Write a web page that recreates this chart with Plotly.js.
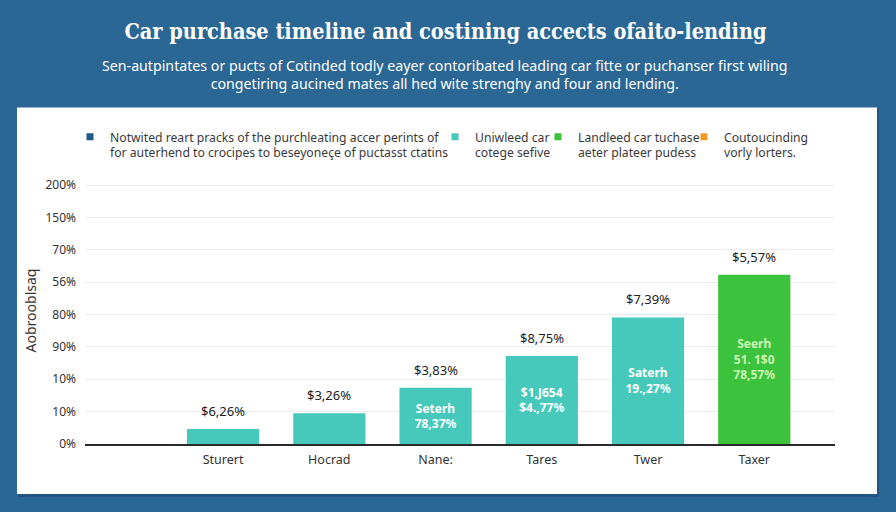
<!DOCTYPE html>
<html>
<head>
<meta charset="utf-8">
<script src="https://cdn.plot.ly/plotly-3.0.1.min.js"></script>
<style>html,body{margin:0;padding:0;background:#2b6795;}#chart{width:896px;height:512px;}</style>
</head>
<body>
<div id="chart"></div>
<script>
// ---- data ----
const categories = ['Sturert', 'Hocrad', 'Nane:', 'Tares', 'Twer', 'Taxer'];
const values = [0.46, 0.95, 1.74, 2.72, 3.91, 5.23];
const topLabels = ['$6,26%', '$3,26%', '$3,83%', '$8,75%', '$7,39%', '$5,57%'];
const insideLabels = ['', '', 'Seterh<br>78,37%', '$1,J654<br>$4.,77%', 'Saterh<br>19.,27%', 'Seerh<br>51. 1$0<br>78,57%'];
const barColors = ['#46c9bb', '#46c9bb', '#46c9bb', '#46c9bb', '#46c9bb', '#3dc23e'];
const insideTextColors = ['#ffffff', '#ffffff', '#ffffff', '#ffffff', '#ffffff', '#c8f7b6'];
const tickVals = [0, 1, 2, 3, 4, 5, 6, 7, 8];
const tickText = ['0%', '10%', '10%', '90%', '80%', '56%', '70%', '150%', '200%'];
const legendNames = [
  'Notwited reart pracks of the purchleating accer perints of<br>for auterhend to crocipes to beseyoneçe of puctasst ctatins',
  'Uniwleed car<br>cotege sefive',
  'Landleed car tuchase<br>aeter plateer pudess',
  'Coutoucinding<br>vorly lorters.'
];
const legendColors = ['#1f5b8a', '#46c9bb', '#3dc23e', '#f29b25'];
const titleText = 'Car purchase timeline and costining accects ofaito-lending';
const subtitleLines = [
  'Sen-autpintates or pucts of Cotinded todly eayer contoribated leading car fitte or puchanser first wiling',
  'congetiring aucined mates all hed wite strenghy and four and lending.'
];
const yTitle = 'Aobrooblsaq';

// ---- layout helpers (pixel -> paper) ----
const L = 85, R = 835, T = 176.7, B = 444;
const px = x => (x - L) / (R - L);
const py = y => (B - y) / (B - T);

const uiFont = 'Noto Sans, Open Sans, DejaVu Sans, sans-serif';

const traces = [{
  type: 'bar',
  x: categories,
  y: values,
  width: 0.68,
  marker: {color: barColors},
  text: insideLabels,
  textposition: 'inside',
  insidetextanchor: 'middle',
  textfont: {family: uiFont, size: 12, color: insideTextColors, weight: 'bold'},
  hoverinfo: 'skip',
  showlegend: false
}];

const legendIds = ['legend', 'legend2', 'legend3', 'legend4'];
legendNames.forEach((n, i) => {
  traces.push({
    type: 'scatter', mode: 'markers', x: [null], y: [null],
    name: n, legend: legendIds[i], showlegend: true,
    marker: {symbol: 'square', size: 7, color: legendColors[i]}
  });
});

const legendX = [70, 435, 538, 684];
const legendBase = {
  visible: true,
  orientation: 'v', xanchor: 'left', yanchor: 'top', valign: 'top',
  bgcolor: 'rgba(0,0,0,0)', borderwidth: 0,
  font: {family: uiFont, size: 12.2, color: '#3a3a3a'},
  itemclick: false, itemdoubleclick: false
};

const layout = {
  width: 896, height: 512,
  showlegend: true,
  paper_bgcolor: '#2b6795',
  plot_bgcolor: 'rgba(0,0,0,0)',
  margin: {l: L, r: 896 - R, t: T, b: 512 - B, autoexpand: false},
  title: {
    text: titleText, xref: 'container', yref: 'container',
    x: 445.5 / 896, y: 1 - 31.7 / 512, xanchor: 'center', yanchor: 'middle',
    font: {family: 'DejaVu Serif Condensed, DejaVu Serif, serif', size: 21.5, color: '#ffffff', weight: 'bold'}
  },
  xaxis: {
    type: 'category', range: [-1.3, 5.76], fixedrange: true,
    showgrid: false, showline: true, linecolor: '#2a2a2a', linewidth: 2,
    ticks: '', ticklabelstandoff: 3,
    tickfont: {family: uiFont, size: 12.5, color: '#333333'}
  },
  yaxis: {
    range: [0, 8.25], fixedrange: true,
    tickvals: tickVals, ticktext: tickText,
    showgrid: true, gridcolor: '#ececec', gridwidth: 1,
    zeroline: false, showline: false, ticks: '', ticklabelstandoff: 8,
    tickfont: {family: uiFont, size: 12, color: '#333333'},
    title: {text: yTitle, standoff: 5, font: {family: uiFont, size: 14, color: '#333333'}}
  },
  bargap: 0.32,
  shapes: [
    {type: 'rect', xref: 'paper', yref: 'paper', layer: 'below',
     x0: px(18), x1: px(879), y0: py(497), y1: py(108),
     fillcolor: 'rgba(20,50,80,0.35)', line: {width: 0}},
    {type: 'rect', xref: 'paper', yref: 'paper', layer: 'below',
     x0: px(17), x1: px(877), y0: py(494), y1: py(107),
     fillcolor: '#ffffff', line: {width: 0}}
  ],
  annotations: [{
    xref: 'paper', yref: 'paper', x: px(445), y: py(73.8), xanchor: 'center', yanchor: 'middle',
    showarrow: false, text: subtitleLines.join('<br>'), align: 'center',
    font: {family: uiFont, size: 14.2, color: '#ffffff'}
  }].concat(categories.map((c, i) => ({
    x: c, y: values[i], xref: 'x', yref: 'y', yanchor: 'bottom', yshift: 7,
    showarrow: false, text: topLabels[i],
    font: {family: uiFont, size: 13, color: '#222222'}
  })))
};

legendIds.forEach((id, i) => {
  layout[id] = Object.assign({}, legendBase, {x: px(legendX[i]), y: py(122)});
});

Plotly.newPlot('chart', traces, layout, {displayModeBar: false, staticPlot: true});
</script>
</body>
</html>
